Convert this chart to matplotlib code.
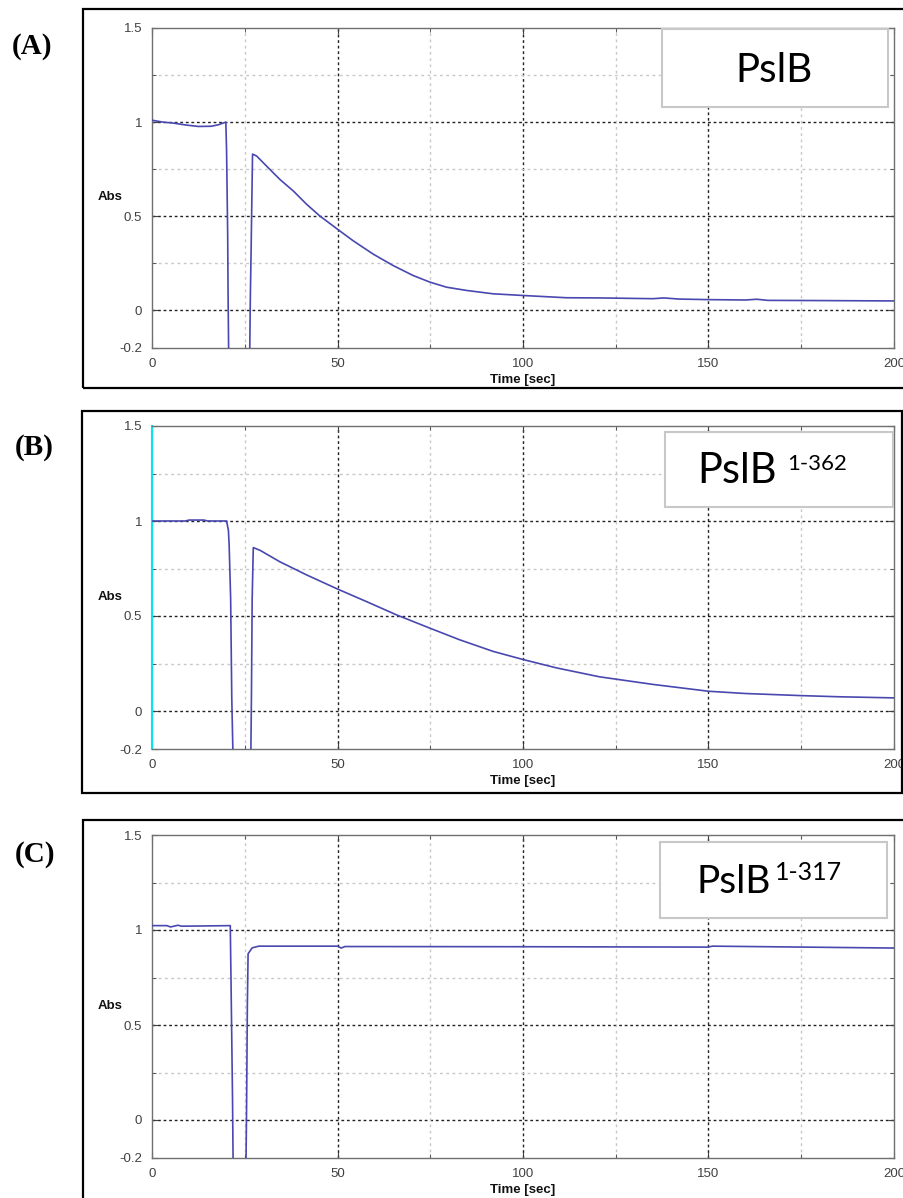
import numpy as np
import matplotlib
matplotlib.use('Agg')
import matplotlib.pyplot as plt
from matplotlib.patches import Rectangle
from matplotlib.ticker import MultipleLocator, FixedLocator

# values (time in sec, absorbance)
t_a = [0, 3, 5.7, 9, 12.5, 16, 17.9, 19.9, 20.1, 20.2, 20.4, 20.5, 20.7, 26.3, 26.5, 26.7, 26.9,
       27.1, 28.2, 30.9, 34.5, 38.1, 41.7, 45.2, 50, 54.2, 59.6, 65, 70.4, 74.9, 79.4, 84.7, 91.9,
       100, 111.7, 120.6, 135, 138, 142, 150, 160, 163, 166, 180, 200]
abs_a = [1.01, 1.0, 0.995, 0.985, 0.977, 0.978, 0.986, 1.0, 0.85, 0.70, 0.40, 0.10, -0.3, -0.3,
         0.06, 0.30, 0.57, 0.83, 0.82, 0.766, 0.695, 0.634, 0.563, 0.502, 0.431, 0.370, 0.299,
         0.238, 0.185, 0.150, 0.123, 0.106, 0.088, 0.079, 0.067, 0.066, 0.062, 0.066, 0.060,
         0.057, 0.055, 0.059, 0.053, 0.052, 0.050]

t_b = [0, 9, 10, 14, 15, 20.1, 20.6, 20.8, 21.2, 21.5, 21.9, 26.6, 26.8, 27.0, 27.3, 29.1, 34.5,
       41.7, 50, 57.8, 65.9, 74.9, 82.9, 91.9, 100, 109, 120.6, 135, 150, 160, 175, 185, 200]
abs_b = [1.0, 1.0, 1.005, 1.005, 1.0, 1.0, 0.95, 0.87, 0.59, 0.07, -0.3, -0.3, 0.07, 0.59, 0.86,
         0.846, 0.785, 0.716, 0.642, 0.576, 0.506, 0.436, 0.375, 0.314, 0.271, 0.227, 0.180,
         0.14, 0.104, 0.092, 0.081, 0.075, 0.069]

t_c = [0, 4, 5, 7, 8, 21.1, 21.3, 21.7, 21.9, 25.3, 25.5, 25.7, 25.9, 27.0, 28.8, 50, 51, 52,
       100, 150, 151, 200]
abs_c = [1.023, 1.023, 1.016, 1.025, 1.02, 1.023, 0.73, 0.12, -0.3, -0.3, 0.08, 0.60, 0.875,
         0.906, 0.915, 0.915, 0.905, 0.913, 0.912, 0.910, 0.915, 0.905]

panels = ['(A)', '(B)', '(C)']
x_ticks = [0, 50, 100, 150, 200]
y_ticks = [-0.2, 0, 0.5, 1, 1.5]
y_labels = ['-0.2', '0', '0.5', '1', '1.5']

W, H = 904, 1198
fig = plt.figure(figsize=(W / 100, H / 100), dpi=100)


def fx(x):
    return x / W


def fy(y):
    return 1 - y / H


def make_axes(top, bottom):
    ax = fig.add_axes([fx(152), fy(bottom), fx(894) - fx(152), fy(top) - fy(bottom)])
    return ax


axes_px = [(28, 348), (426, 749), (835, 1158)]
series = [(t_a, abs_a), (t_b, abs_b), (t_c, abs_c)]

for i, ((top, bot), (t, a)) in enumerate(zip(axes_px, series)):
    ax = make_axes(top, bot)
    ax.plot(t, a, color='#4848b0', lw=1.2, zorder=3)
    ax.set_xlim(0, 200)
    ax.set_ylim(-0.2, 1.5)
    ax.set_xticks(x_ticks)
    ax.set_yticks(y_ticks)
    ax.set_yticklabels(y_labels)
    ax.xaxis.set_minor_locator(FixedLocator([25, 75, 125, 175]))
    ax.yaxis.set_minor_locator(FixedLocator([0.25, 0.75, 1.25]))
    ax.tick_params(which='both', direction='in', top=True, right=True, colors='#404040',
                   labelsize=9.5, labelfontfamily='Liberation Sans')
    ax.tick_params(which='major', length=4, pad=7)
    ax.tick_params(which='minor', length=3)
    # matlab-like grid: dark at major ticks, light at minor ticks
    for gx in [50, 100, 150]:
        ax.axvline(gx, color='#222222', lw=1.0, ls=(0, (2, 2)), zorder=1)
    for gy in [0, 0.5, 1]:
        ax.axhline(gy, color='#222222', lw=1.0, ls=(0, (2, 2)), zorder=1)
    for gx in [25, 75, 125, 175]:
        ax.axvline(gx, color='#c8c8c8', lw=1.0, ls=(0, (2, 2.5)), zorder=1)
    for gy in [0.25, 0.75, 1.25]:
        ax.axhline(gy, color='#c8c8c8', lw=1.0, ls=(0, (2, 2.5)), zorder=1)
    for s in ax.spines.values():
        s.set_color('#707070')
        s.set_linewidth(1.0)
    if i == 1:
        ax.spines['left'].set_color('#00e5ee')
        ax.spines['left'].set_linewidth(1.5)
    ax.set_xlabel('Time [sec]', fontsize=9.5, fontweight='bold', family='Liberation Sans',
                  labelpad=3, color='#111111')
    ax.text(-0.057, 0.6, 'Abs', transform=ax.get_yaxis_transform(), ha='center', va='center',
            fontsize=9.5, fontweight='bold', family='Liberation Sans', color='#111111')

# outer black frames around each panel
frames = [(83, 9, 1000, 388), (82, 411, 902, 793), (83, 820, 1000, 1300)]
for (x0, y0, x1, y1) in frames:
    fig.add_artist(Rectangle((fx(x0), fy(y1)), fx(x1) - fx(x0), fy(y0) - fy(y1),
                             transform=fig.transFigure, fill=False, ec='black', lw=1.6))

# panel letters
for lab, (x, y) in zip(panels, [(32, 47), (34, 447), (35, 854)]):
    fig.text(fx(x), fy(y), lab, ha='center', va='center', fontsize=21, fontweight='bold',
             family='Liberation Serif')

# name boxes
boxes = [(662, 29, 888, 107), (665, 432, 893, 507), (660, 842, 887, 918)]
for (x0, y0, x1, y1) in boxes:
    fig.add_artist(Rectangle((fx(x0), fy(y1)), fx(x1) - fx(x0), fy(y0) - fy(y1),
                             transform=fig.transFigure, fc='white', ec='#c8c8c8', lw=1.5,
                             zorder=2))

fig.text(fx(735), fy(82), 'PslB', ha='left', va='baseline', fontsize=29, family='Lato', zorder=3)
fig.text(fx(697), fy(483), 'PslB', ha='left', va='baseline', fontsize=30, family='Lato', zorder=3)
fig.text(fx(787), fy(470), '1-362', ha='left', va='baseline', fontsize=16, family='Lato', zorder=3)
fig.text(fx(697), fy(893), 'PslB', ha='left', va='baseline', fontsize=28, family='Lato', zorder=3)
fig.text(fx(775), fy(880), '1-317', ha='left', va='baseline', fontsize=18, family='Lato', zorder=3)

fig.savefig('out.png', dpi=100)
